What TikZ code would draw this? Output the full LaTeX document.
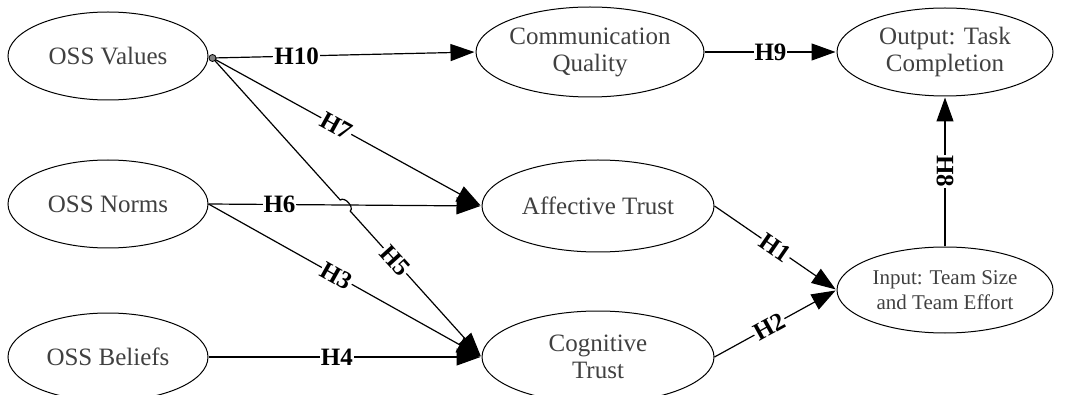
\documentclass[tikz,border=0pt]{standalone}
\usepackage{fontspec}
\setmainfont{Liberation Serif}
\usepackage{tikz}
\usetikzlibrary{arrows.meta,shapes.geometric,positioning,calc}

\begin{document}
\begin{tikzpicture}[x=1pt,y=-1pt,on grid,node distance=148pt,
    >={Triangle[length=24pt,width=17pt]},shorten >=1pt,line width=1.2pt]
       \tikzstyle{factor}=[ellipse,draw,line width=1pt,inner sep=0pt,
         minimum width=200pt,minimum height=88pt,text=black!75,align=center,
         font=\fontsize{25}{27}\selectfont]
       \tikzstyle{hyp}=[fill=white,inner sep=1pt,font=\bfseries\fontsize{25}{25}\selectfont]

       \clip (0,0) rectangle (1070,395);

       \node[factor] (vals) at (108,56) {OSS Values};
       \node[factor] (norms) [below of=vals] {OSS Norms};
       \node[factor] (beliefs) [below=153pt of norms] {OSS Beliefs};
       \node[factor,minimum width=228pt,minimum height=90pt] (comm) [right=482pt of vals,yshift=4pt] {Communication\\Quality};
       \node[factor,minimum width=232pt,minimum height=92pt] (aff) [right=490pt of norms,yshift=-2pt] {Affective Trust};
       \node[factor,minimum width=232pt,minimum height=92pt] (cog) [right=490pt of beliefs] {Cognitive\\Trust};
       \node[factor,minimum width=216pt] (out) [right=355pt of comm] {Output: Task\\Completion};
       \node[factor,minimum width=216pt,minimum height=86pt,font=\fontsize{21}{25}\selectfont] (inp) [below=238pt of out] {Input: Team Size\\and Team Effort};

       \coordinate (hub) at ($(vals.east)+(4,2)$);

       \path[->]
       (hub) edge node[hyp,pos=0.32] {H10} (comm.west)
       (hub) edge node[hyp,sloped,pos=0.46] {H7} (aff.west)
       (norms.east) edge node[hyp,pos=0.26] {H6} (aff.west)
       (norms.east) edge node[hyp,sloped,pos=0.47] {H3} (cog.west)
       (beliefs.east) edge node[hyp,pos=0.47] {H4} (cog.west)
       (comm.east) edge node[hyp] {H9} (out.west)
       (aff.east) edge node[hyp,sloped,pos=0.5] {H1} (inp.west)
       (cog.east) edge node[hyp,sloped,pos=0.45] {H2} (inp.west)
       (inp.north) edge node[hyp,rotate=-90] {H8} (out.south);

       % H5 jumps over H6
       \draw[->] (hub) -- ($(hub)!0.475!(cog.west)$)
         to[bend left=90] ($(hub)!0.512!(cog.west)$)
         -- node[hyp,sloped,pos=0.34] {H5} (cog.west);

       \draw[line width=0.8pt,fill=black!50] (hub) circle (3.5pt);
     \end{tikzpicture}
\end{document}
